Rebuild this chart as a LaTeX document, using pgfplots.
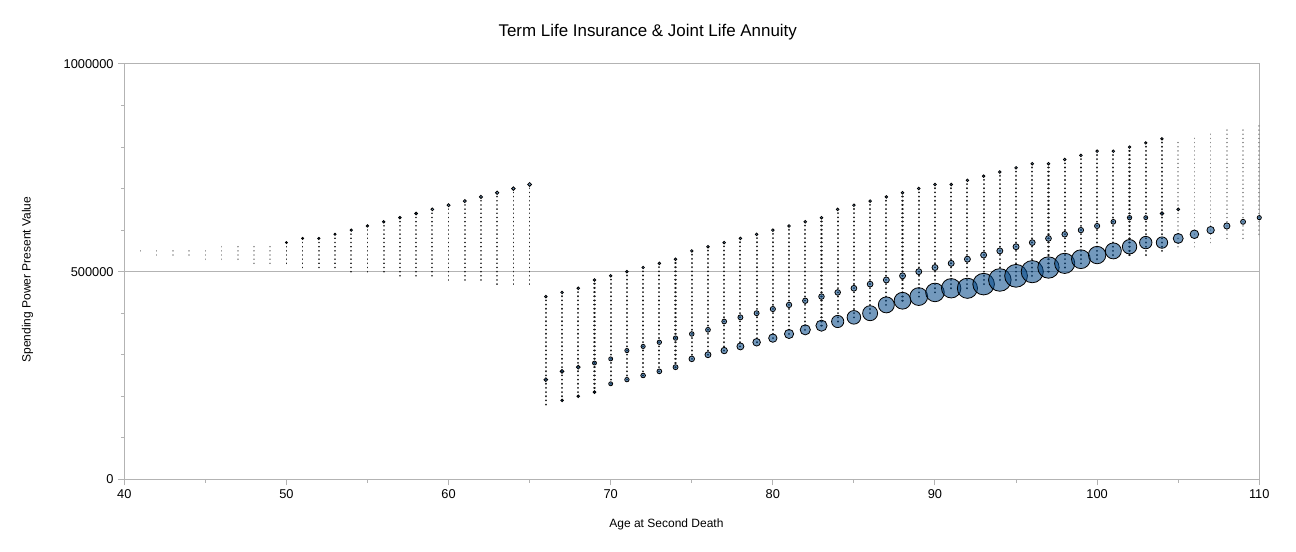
\documentclass[border=0pt]{standalone}
\usepackage{fontspec}
\setmainfont{Liberation Sans}
\usepackage{pgfplots}
\pgfplotsset{compat=1.18}
\usepackage{pgfplotstable}
\definecolor{axgray}{HTML}{B3B3B3}
\definecolor{bub}{HTML}{004586}

% column ranges of the small dots (x, lowest, highest value)
\pgfplotstableread{
x lo hi
41 550000 550000
42 540000 550000
43 540000 550000
44 540000 550000
45 530000 550000
46 530000 560000
47 530000 560000
48 520000 560000
49 520000 560000
105 560000 820000
106 560000 830000
107 570000 840000
108 580000 850000
109 580000 850000
110 590000 860000
}\colsLight

\pgfplotstableread{
x lo hi
50 520000 570000
51 510000 580000
52 510000 580000
53 510000 590000
54 500000 600000
55 500000 610000
56 500000 620000
57 490000 630000
58 490000 640000
59 490000 650000
60 480000 660000
61 480000 670000
62 480000 680000
63 470000 690000
64 470000 700000
65 470000 710000
}\colsLeft

\pgfplotstableread{
x lo hi
66 180000 440000
67 190000 450000
68 200000 460000
69 210000 480000
70 230000 490000
71 240000 500000
72 250000 510000
73 260000 520000
74 270000 530000
75 290000 550000
76 300000 560000
77 310000 570000
78 320000 580000
79 330000 590000
80 340000 600000
81 350000 610000
82 360000 620000
83 370000 630000
84 380000 650000
85 390000 660000
86 400000 670000
87 420000 680000
88 430000 690000
89 440000 700000
90 450000 710000
91 460000 710000
92 460000 720000
93 470000 730000
94 480000 740000
95 480000 750000
96 490000 760000
97 500000 760000
98 510000 770000
99 520000 780000
100 530000 790000
101 540000 790000
102 540000 800000
103 540000 810000
104 550000 820000
}\colsRight

% top dots of each column (x, y, radius in px)
\pgfplotstableread{
x y r
50 570000 1.0
51 580000 1.0
52 580000 1.1
53 590000 1.1
54 600000 1.2
55 610000 1.2
56 620000 1.3
57 630000 1.3
58 640000 1.4
59 650000 1.4
60 660000 1.5
61 670000 1.5
62 680000 1.6
63 690000 1.7
64 700000 1.8
65 710000 1.9
66 440000 1.3
67 450000 1.3
68 460000 1.3
69 480000 1.3
70 490000 1.3
71 500000 1.3
72 510000 1.3
73 520000 1.3
74 530000 1.3
75 550000 1.3
76 560000 1.3
77 570000 1.3
78 580000 1.3
79 590000 1.3
80 600000 1.3
81 610000 1.3
82 620000 1.3
83 630000 1.3
84 650000 1.3
85 660000 1.3
86 670000 1.3
87 680000 1.3
88 690000 1.3
89 700000 1.3
90 710000 1.3
91 710000 1.3
92 720000 1.3
93 730000 1.3
94 740000 1.3
95 750000 1.3
96 760000 1.3
97 760000 1.3
98 770000 1.3
99 780000 1.3
100 790000 1.3
101 790000 1.3
102 800000 1.2
103 810000 1.2
104 820000 1.2
}\topDots

% upper bubble series
\pgfplotstableread{
x y r
66 240000 1.9
67 260000 1.9
68 270000 1.9
69 280000 2.0
70 290000 2.0
71 310000 2.1
72 320000 2.1
73 330000 2.2
74 340000 2.2
75 350000 2.3
76 360000 2.4
77 380000 2.4
78 390000 2.5
79 400000 2.5
80 410000 2.6
81 420000 2.7
82 430000 2.7
83 440000 2.8
84 450000 2.8
85 460000 2.9
86 470000 2.9
87 480000 3.0
88 490000 3.0
89 500000 3.0
90 510000 3.0
91 520000 3.0
92 530000 3.0
93 540000 3.0
94 550000 3.0
95 560000 3.0
96 570000 2.9
97 580000 2.9
98 590000 2.8
99 600000 2.7
100 610000 2.6
101 620000 2.4
102 630000 2.2
103 630000 2.0
104 640000 1.8
105 650000 1.4
}\upperB

% lower (large) bubble series
\pgfplotstableread{
x y r
67 190000 1.3
68 200000 1.3
69 210000 1.4
70 230000 2.0
71 240000 2.2
72 250000 2.3
73 260000 2.4
74 270000 2.5
75 290000 2.8
76 300000 3.0
77 310000 3.2
78 320000 3.5
79 330000 3.8
80 340000 4.2
81 350000 4.6
82 360000 5.1
83 370000 5.6
84 380000 6.1
85 390000 6.8
86 400000 7.5
87 420000 8.0
88 430000 8.4
89 440000 8.9
90 450000 9.3
91 460000 9.7
92 460000 10.1
93 470000 10.8
94 480000 11.3
95 490000 11.4
96 500000 11.1
97 510000 10.7
98 520000 10.1
99 530000 9.4
100 540000 8.7
101 550000 8.0
102 560000 7.2
103 570000 6.2
104 570000 5.7
105 580000 5.0
106 590000 4.3
107 600000 3.7
108 610000 3.1
109 620000 2.5
110 630000 2.1
}\lowerB

\pgfplotsset{
  dotcol/.style n args={2}{draw=none, mark=none, forget plot,
    error bars/.cd, y dir=plus, y explicit, error mark=none,
    error bar style={draw=#1, line width=#2, line cap=round,
      dash pattern=on 0.01pt off 3.115pt}},
  bubbles/.style={scatter, only marks, mark=*,
    scatter/use mapped color={draw=black, fill=bub, fill opacity=0.55},
    mark options={line width=0.6pt},
    visualization depends on={0.75*\thisrow{r} \as \rad},
    scatter/@pre marker code/.append style={/tikz/mark size=\rad}},
}

\begin{document}
\begin{tikzpicture}
\begin{axis}[name=ax, scale only axis, width=851.25pt, height=311.5pt,
  xmin=40, xmax=110, ymin=0, ymax=1000000,
  axis line style={axgray, line width=0.75pt},
  xtick={40,50,...,110}, minor x tick num=1,
  ytick={0,500000,1000000}, yticklabels={0,500000,1000000},
  minor y tick num=4, scaled y ticks=false,
  tick pos=left, tick align=outside,
  major tick length=4.5pt, minor tick length=2.5pt,
  every tick/.style={axgray, line width=0.75pt},
  ymajorgrids, major grid style={axgray, line width=0.75pt},
  tick label style={font=\fontsize{9.6}{11}\selectfont},
  /pgf/number format/assume math mode=true,
  clip=false]
\addplot[dotcol={black!45}{1.2pt}] table[x=x, y=lo, y error expr=\thisrow{hi}-\thisrow{lo}+500] {\colsLight};
\addplot[dotcol={black!85}{1.3pt}] table[x=x, y=lo, y error expr=\thisrow{hi}-\thisrow{lo}+500] {\colsLeft};
\addplot[dotcol={black!90}{1.6pt}] table[x=x, y=lo, y error expr=\thisrow{hi}-\thisrow{lo}+500] {\colsRight};
\addplot[bubbles] table[x=x, y=y] {\topDots};
\addplot[bubbles] table[x=x, y=y] {\upperB};
\addplot[bubbles] table[x=x, y=y] {\lowerB};
\end{axis}
\node[font=\fontsize{12.7}{15}\selectfont, anchor=center] at ([xshift=-33pt, yshift=24pt]ax.north) {Term Life Insurance \& Joint Life Annuity};
\node[font=\fontsize{9}{11}\selectfont, anchor=center] at ([xshift=-19pt, yshift=-33.9pt]ax.south) {Age at Second Death};
\node[font=\fontsize{9}{11}\selectfont, anchor=center, rotate=90] at ([xshift=-72.6pt, yshift=-6pt]ax.west) {Spending Power Present Value};
\pgfresetboundingbox
\path[use as bounding box] ([xshift=-93.2pt, yshift=-54.5pt]ax.south west) rectangle ++(972pt,414pt);
\end{tikzpicture}
\end{document}
